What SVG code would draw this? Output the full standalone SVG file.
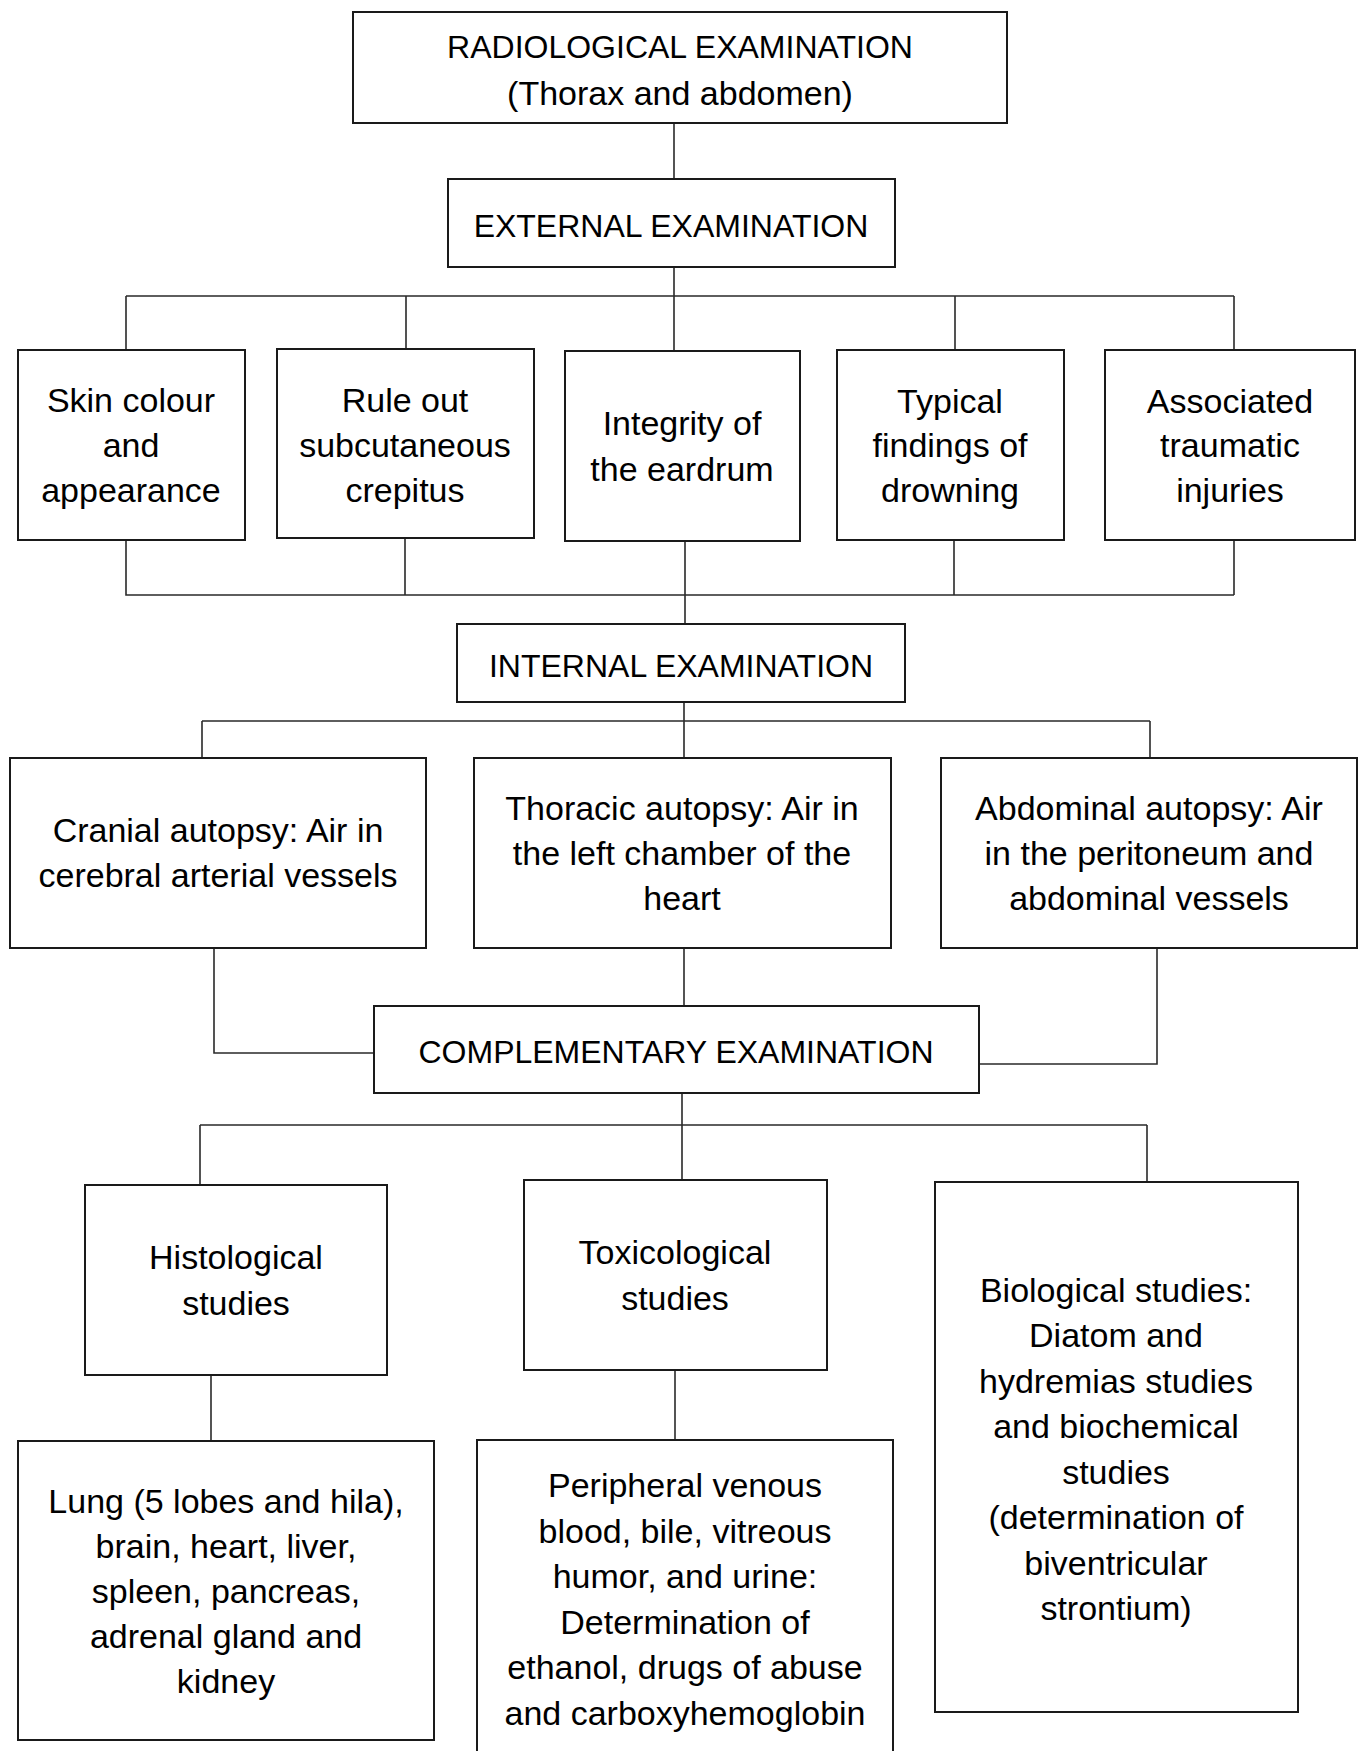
<svg xmlns="http://www.w3.org/2000/svg" width="1360" height="1751" viewBox="0 0 1360 1751">
<style>
.box{fill:#fff;stroke:#1a1a1a;stroke-width:2}
.conn{fill:none;stroke:#2a2a2a;stroke-width:1.6}
text{font-family:"Liberation Sans",Arial,sans-serif;font-size:34px;text-anchor:middle;fill:#000}
text.cap{font-size:32px}
</style>
<rect width="1360" height="1751" fill="#fff"/>
<g id="connectors">
<path class="conn" d="M674 123V179"/>
<path class="conn" d="M674 267V352M126 296H1234M126 296V350M406 296V349M955 296V350M1234 296V350"/>
<path class="conn" d="M126 540V595H1234M405 538V595M954 540V595M1234 540V595M685 540V624"/>
<path class="conn" d="M684 702V758M202 721H1150M202 721V758M1150 721V758"/>
<path class="conn" d="M214 948V1053H374"/>
<path class="conn" d="M684 948V1006"/>
<path class="conn" d="M1157 948V1064H976"/>
<path class="conn" d="M682 1093V1180M200 1125H1147M200 1125V1185M1147 1125V1182"/>
<path class="conn" d="M211 1375V1441"/>
<path class="conn" d="M675 1370V1440"/>
</g>
<g id="radiological"><rect class="box" x="353" y="12" width="654" height="111"/><text class="cap" x="680" y="58">RADIOLOGICAL EXAMINATION</text><text x="680" y="105">(Thorax and abdomen)</text></g>
<g id="external"><rect class="box" x="448" y="179" width="447" height="88"/><text class="cap" x="671" y="237">EXTERNAL EXAMINATION</text></g>
<g id="skin"><rect class="box" x="18" y="350" width="227" height="190"/><text x="131" y="412">Skin colour</text><text x="131" y="457">and</text><text x="131" y="502">appearance</text></g>
<g id="ruleout"><rect class="box" x="277" y="349" width="257" height="189"/><text x="405" y="412">Rule out</text><text x="405" y="457">subcutaneous</text><text x="405" y="502">crepitus</text></g>
<g id="integrity"><rect class="box" x="565" y="351" width="235" height="190"/><text x="682" y="435">Integrity of</text><text x="682" y="481">the eardrum</text></g>
<g id="typical"><rect class="box" x="837" y="350" width="227" height="190"/><text x="950" y="413">Typical</text><text x="950" y="457">findings of</text><text x="950" y="502">drowning</text></g>
<g id="associated"><rect class="box" x="1105" y="350" width="250" height="190"/><text x="1230" y="413">Associated</text><text x="1230" y="457">traumatic</text><text x="1230" y="502">injuries</text></g>
<g id="internal"><rect class="box" x="457" y="624" width="448" height="78"/><text class="cap" x="681" y="677">INTERNAL EXAMINATION</text></g>
<g id="cranial"><rect class="box" x="10" y="758" width="416" height="190"/><text x="218" y="842">Cranial autopsy: Air in</text><text x="218" y="887">cerebral arterial vessels</text></g>
<g id="thoracic"><rect class="box" x="474" y="758" width="417" height="190"/><text x="682" y="820">Thoracic autopsy: Air in</text><text x="682" y="865">the left chamber of the</text><text x="682" y="910">heart</text></g>
<g id="abdominal"><rect class="box" x="941" y="758" width="416" height="190"/><text x="1149" y="820">Abdominal autopsy: Air</text><text x="1149" y="865">in the peritoneum and</text><text x="1149" y="910">abdominal vessels</text></g>
<g id="complementary"><rect class="box" x="374" y="1006" width="605" height="87"/><text class="cap" x="676" y="1063">COMPLEMENTARY EXAMINATION</text></g>
<g id="histological"><rect class="box" x="85" y="1185" width="302" height="190"/><text x="236" y="1269">Histological</text><text x="236" y="1315">studies</text></g>
<g id="toxicological"><rect class="box" x="524" y="1180" width="303" height="190"/><text x="675" y="1264">Toxicological</text><text x="675" y="1310">studies</text></g>
<g id="biological"><rect class="box" x="935" y="1182" width="363" height="530"/><text x="1116" y="1302">Biological studies:</text><text x="1116" y="1347">Diatom and</text><text x="1116" y="1393">hydremias studies</text><text x="1116" y="1438">and biochemical</text><text x="1116" y="1484">studies</text><text x="1116" y="1529">(determination of</text><text x="1116" y="1575">biventricular</text><text x="1116" y="1620">strontium)</text></g>
<g id="lung"><rect class="box" x="18" y="1441" width="416" height="299"/><text x="226" y="1513">Lung (5 lobes and hila),</text><text x="226" y="1558">brain, heart, liver,</text><text x="226" y="1603">spleen, pancreas,</text><text x="226" y="1648">adrenal gland and</text><text x="226" y="1693">kidney</text></g>
<g id="peripheral"><rect class="box" x="477" y="1440" width="416" height="340"/><text x="685" y="1497">Peripheral venous</text><text x="685" y="1543">blood, bile, vitreous</text><text x="685" y="1588">humor, and urine:</text><text x="685" y="1634">Determination of</text><text x="685" y="1679">ethanol, drugs of abuse</text><text x="685" y="1725">and carboxyhemoglobin</text></g>
</svg>
